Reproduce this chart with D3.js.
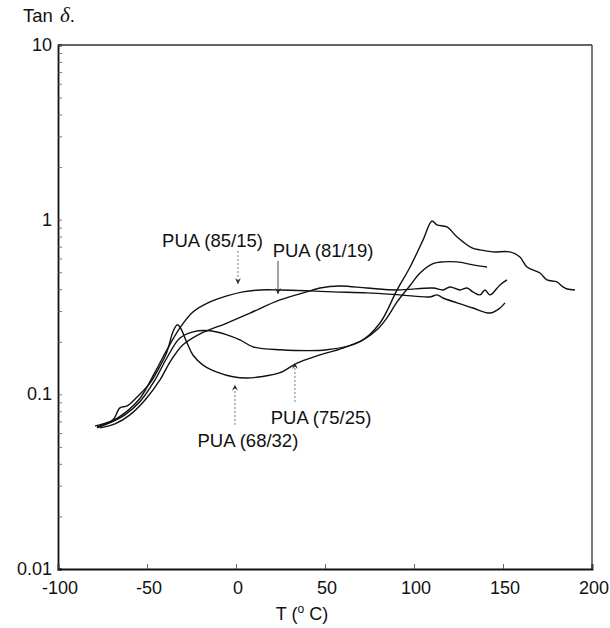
<!DOCTYPE html>
<html><head><meta charset="utf-8">
<script src="https://cdn.jsdelivr.net/npm/d3@7"></script>
<style>
body{margin:0;background:#fff;}
text{font-family:"Liberation Sans",Arial,sans-serif;fill:#111;}
</style></head>
<body><svg id="c" width="610" height="628"></svg>
<script>
// ---- data: temperature (°C) and tan δ ----
const pua6832_T   = [-79.2,-74.7,-69.1,-65.2,-61.2,-55.6,-48.3,-42.7,-38.8,-35.4,-33.1,-31.5,-27.5,-24.2,-18.5,-10.7,-1.7,6.2,13.5,24.7,34.3,45.5,60.1,71.3,79.2,84.8,90.5,97.8,103.4,110.7,116.3,124.2,133.1,141.0];
const pua6832_tan = [0.066,0.0677,0.0714,0.0836,0.0858,0.0966,0.116,0.145,0.175,0.228,0.250,0.243,0.197,0.168,0.147,0.134,0.126,0.124,0.126,0.133,0.151,0.166,0.184,0.205,0.234,0.274,0.338,0.42,0.495,0.56,0.573,0.573,0.551,0.536];

const pua7525_T   = [-78.1,-70.8,-62.4,-53.9,-45.5,-38.8,-31.5,-24.2,-14.6,-5.1,2.2,9.6,24.7,51.1,69.7,80.9,90.5,97.8,105.1,110.1,112.9,118.5,124.2,132.6,137.1,144.4,153.9,159.5,163.5,170.8,174.7,180.3,183.7,186.0,190.4];
const pua7525_tan = [0.0651,0.069,0.0763,0.091,0.121,0.162,0.210,0.228,0.231,0.219,0.205,0.187,0.180,0.180,0.200,0.256,0.396,0.536,0.766,0.983,0.933,0.908,0.796,0.689,0.671,0.654,0.654,0.611,0.536,0.495,0.452,0.440,0.412,0.401,0.396];

const pua8515_T   = [-78.1,-70.8,-62.4,-53.9,-45.5,-38.8,-31.5,-24.2,-14.6,-5.1,3.9,13.5,24.7,41.6,54.5,73.6,92.1,109.0,112.9,116.3,124.2,133.1,142.7,148.3,151.1];
const pua8515_tan = [0.0643,0.069,0.0783,0.095,0.134,0.180,0.240,0.296,0.338,0.366,0.386,0.396,0.396,0.391,0.386,0.381,0.371,0.361,0.371,0.356,0.334,0.312,0.292,0.312,0.334];

const pua8119_T   = [-76.4,-68.0,-59.6,-51.1,-42.7,-37.1,-29.8,-20.2,-5.1,7.9,24.7,41.6,47.2,58.4,73.6,90.5,110.7,116.3,120.2,125.8,129.8,133.1,137.1,139.9,142.7,148.3,152.2];
const pua8119_tan = [0.0643,0.0677,0.0763,0.0929,0.121,0.153,0.192,0.222,0.256,0.292,0.347,0.391,0.406,0.417,0.406,0.396,0.406,0.396,0.412,0.396,0.406,0.386,0.371,0.396,0.371,0.423,0.452];

const xTicks = [-100,-50,0,50,100,150,200];
const yTicks = [0.01,0.1,1,10];

// annotation labels: text, arrow tip (T, tan), label centre (T, tan)
const labels = [
  {text:"PUA (85/15)", T:1.1,  tan:0.412, lx:-13.2, ly:0.698, down:true,  dash:true},
  {text:"PUA (81/19)", T:23.6, tan:0.361, lx:48.9,  ly:0.612, down:true,  dash:false},
  {text:"PUA (75/25)", T:33.1, tan:0.157, lx:47.8,  ly:0.0677,down:false, dash:true},
  {text:"PUA (68/32)", T:-0.6, tan:0.118, lx:6.7,   ly:0.050, down:false, dash:true}
];

const svg = d3.select("#c");
const L=58, R=592, T0=45, B=569;
const x = d3.scaleLinear().domain([-100,200]).range([L,R]);
const y = d3.scaleLog().domain([0.01,10]).range([B,T0]);

// frame
svg.append("line").attr("x1",L).attr("x2",R).attr("y1",T0).attr("y2",T0).attr("stroke","#333").attr("stroke-width",1.3);
svg.append("line").attr("x1",R).attr("x2",R).attr("y1",T0).attr("y2",B).attr("stroke","#333").attr("stroke-width",1.3);

// y axis with minor ticks inside
const yAxis = d3.axisLeft(y).tickValues(y.ticks()).tickSize(-4).tickPadding(0).tickFormat("");
const gy = svg.append("g").attr("transform",`translate(${L},0)`).call(yAxis);
gy.select(".domain").attr("stroke","#111").attr("stroke-width",1.8);
gy.selectAll(".tick line").attr("stroke","#555").attr("stroke-width",0.8);
svg.append("g").selectAll("text").data(yTicks).join("text")
  .attr("x",L-6).attr("y",d=>y(d)+6).attr("text-anchor","end")
  .style("font-size","18px").text(d=>d===0.01?"0.01":d===0.1?"0.1":String(d));

// x axis ticks inside
const xAxis = d3.axisBottom(x).tickValues(xTicks).tickSize(-5).tickFormat("");
const gx = svg.append("g").attr("transform",`translate(0,${B})`).call(xAxis);
gx.select(".domain").attr("stroke","#111").attr("stroke-width",1.8);
gx.selectAll(".tick line").attr("stroke","#444").attr("stroke-width",0.8);
svg.append("g").selectAll("text").data(xTicks).join("text")
  .attr("x",d=>x(d)+2).attr("y",B+25).attr("text-anchor","middle")
  .style("font-size","18px").text(d=>String(d));

// axis titles
const xt = svg.append("text").attr("x",302).attr("y",620).attr("text-anchor","middle").style("font-size","18px");
xt.append("tspan").text("T (");
xt.append("tspan").attr("dy",-7).style("font-size","12px").text("o");
xt.append("tspan").attr("dy",7).text(" C)");
const yt = svg.append("text").attr("x",23).attr("y",22).style("font-size","18.5px");
yt.append("tspan").text("Tan ");
yt.append("tspan").attr("dx",2).style("font-family","'Liberation Serif','Times New Roman',serif").style("font-style","italic").style("font-size","21px").text("δ");
yt.append("tspan").text(".");

// curves
const series = [
  [pua6832_T,pua6832_tan],[pua7525_T,pua7525_tan],[pua8515_T,pua8515_tan],[pua8119_T,pua8119_tan]
];
const line = d3.line().x(d=>x(d[0])).y(d=>y(d[1])).curve(d3.curveCatmullRom.alpha(0.5));
series.forEach(([ts,vs])=>{
  svg.append("path").datum(ts.map((t,i)=>[t,vs[i]]))
    .attr("d",line).attr("fill","none").attr("stroke","#111").attr("stroke-width",1.4);
});

// labels with arrows
labels.forEach(l=>{
  const px=x(l.T), py=y(l.tan);
  const tx=x(l.lx), ty=y(l.ly);
  svg.append("text").attr("x",tx).attr("y",ty).attr("text-anchor","middle").style("font-size","18.5px").text(l.text);
  let y1, y2;
  if(l.down){ y1 = ty+4; y2 = py-3; } else { y1 = ty-22; y2 = py+3; }
  svg.append("line").attr("x1",px).attr("x2",px).attr("y1",y1).attr("y2",y2)
    .attr("stroke",l.dash?"#777":"#444").attr("stroke-width",1)
    .attr("stroke-dasharray",l.dash?"2,2":null);
  const s = l.down ? -1 : 1;
  svg.append("path").attr("d",`M${px-3},${y2+6*s}L${px},${y2}L${px+3},${y2+6*s}L${px},${y2+3.5*s}Z`).attr("fill","#222");
});
</script></body></html>
